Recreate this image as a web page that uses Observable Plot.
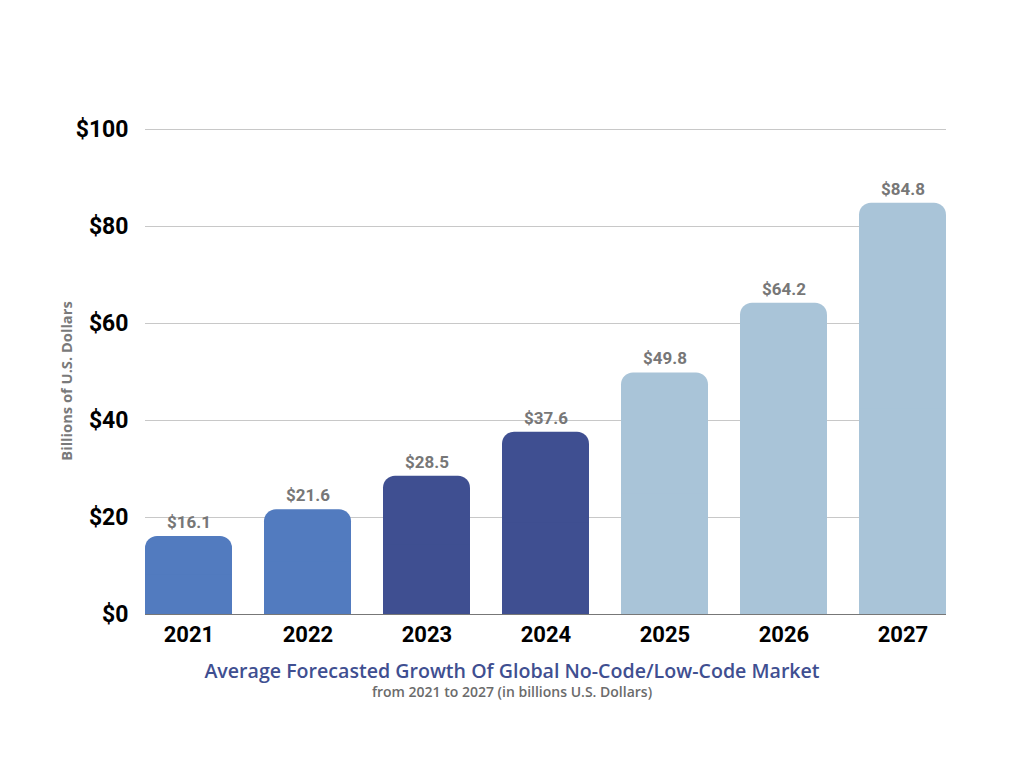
<!DOCTYPE html>
<html>
<head>
<meta charset="utf-8">
<script src="https://cdn.jsdelivr.net/npm/d3@7"></script>
<script src="https://cdn.jsdelivr.net/npm/@observablehq/plot@0.6"></script>
<style>
  html, body { margin: 0; padding: 0; background: #fff; }
  #wrap { width: 1024px; height: 768px; position: relative; }
  #title { position: absolute; left: 0; width: 1024px; top: 657px; text-align: center;
    font-family: "Open Sans", "Noto Sans", sans-serif; font-weight: 600; font-size: 19.6px; color: #3f4f91; }
  #subtitle { position: absolute; left: 0; width: 1024px; top: 682px; text-align: center;
    font-family: "Open Sans", "Noto Sans", sans-serif; font-weight: 600; font-size: 14px; color: #6b6b6b; }
  #ylabel { position: absolute; left: 66px; top: 381px; transform: translate(-50%, -50%) rotate(-90deg);
    white-space: nowrap; font-family: "Open Sans", "Noto Sans", sans-serif; font-weight: 700;
    font-size: 14.7px; color: #7a7a7a; }
  svg text { font-family: Roboto, sans-serif; }
</style>
</head>
<body>
<div id="wrap">
  <div id="chart"></div>
  <div id="ylabel">Billions of U.S. Dollars</div>
  <div id="title">Average Forecasted Growth Of Global No-Code/Low-Code Market</div>
  <div id="subtitle">from 2021 to 2027 (in billions U.S. Dollars)</div>
</div>
<script>
const years = ["2021", "2022", "2023", "2024", "2025", "2026", "2027"];
const values = [16.1, 21.6, 28.5, 37.6, 49.8, 64.2, 84.8];
const groups = ["a", "a", "b", "b", "c", "c", "c"];
const groupColors = {a: "#527bbf", b: "#3f4f91", c: "#a9c4d8"};
const yTicks = [0, 20, 40, 60, 80, 100];

const data = years.map((y, i) => ({year: y, value: values[i], fill: groupColors[groups[i]]}));

const chart = Plot.plot({
  width: 1024,
  height: 660,
  marginLeft: 145,
  marginRight: 78,
  marginTop: 129,
  marginBottom: 46,
  x: {domain: years, paddingInner: 0.27, paddingOuter: 0, label: null},
  y: {domain: [0, 100], label: null},
  marks: [
    Plot.ruleY(yTicks.filter(d => d > 0), {stroke: "#c8c8c8", strokeWidth: 1}),
    Plot.barY(data, {x: "year", y: "value", fill: "fill", rx: 12}),
    Plot.barY(data, {x: "year", y1: 0, y2: d => d.value / 2, fill: "fill"}),
    Plot.ruleY([0], {stroke: "#777", strokeWidth: 1}),
    Plot.text(data, {x: "year", y: "value", text: d => "$" + d.value.toFixed(1), dy: -14,
      fill: "#777", fontSize: 17, fontWeight: "bold"}),
    Plot.axisY({ticks: yTicks, tickFormat: d => "$" + d, tickSize: 0, tickPadding: 17,
      fontSize: 23, fontWeight: "bold", color: "#000", label: null}),
    Plot.axisX({tickSize: 0, tickPadding: 12, fontSize: 22, fontWeight: "bold", color: "#000", label: null})
  ]
});
chart.style.color = "#000";
document.getElementById("chart").appendChild(chart);
</script>
</body>
</html>
